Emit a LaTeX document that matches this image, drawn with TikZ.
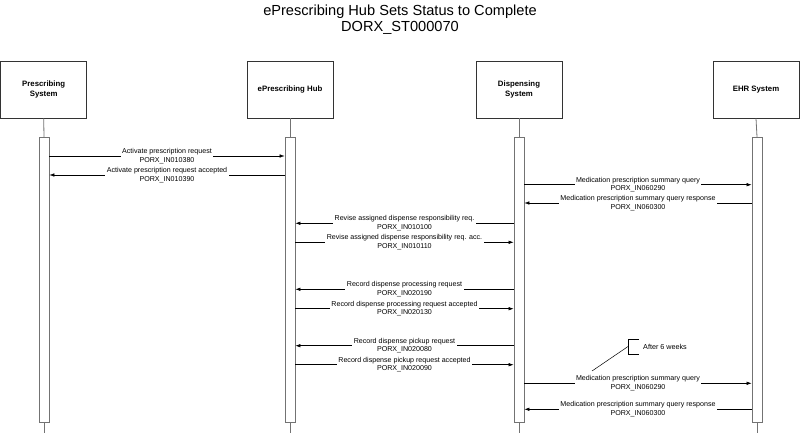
\documentclass[tikz,border=0pt]{standalone}
\usepackage{fontspec}
\setmainfont{Liberation Sans}
\usetikzlibrary{arrows.meta}

\tikzstyle{actor} = [draw=black!80, line width=0.8pt, minimum width=86, minimum height=57, inner sep=0pt, align=center, font=\bfseries\fontsize{7.8}{10}\selectfont]
\tikzstyle{bar} = [draw=black!55, line width=0.8pt, fill=white, minimum width=10, minimum height=285, inner sep=0pt, anchor=north]
\tikzstyle{life} = [draw=black!55, line width=0.8pt]
\tikzstyle{msg} = [-{Latex[length=5pt,width=3.5pt]}, line width=0.5pt]
\tikzstyle{lbl} = [fill=white, inner sep=1.5pt, align=center, font=\fontsize{7.1}{8.6}\selectfont]

\begin{document}
\begin{tikzpicture}[x=1pt, y=-1pt]
\useasboundingbox (0,0) rectangle (800,433);

\node [align=center, font=\fontsize{14.6}{16}\selectfont] (title) at (400,20) {ePrescribing Hub Sets Status to Complete\\DORX\_ST000070};

% participants
\node [actor] (P) at (43.7,89.5) {Prescribing\\System};
\node [actor] (H) at (290,89.5) {ePrescribing Hub};
\node [actor] (D) at (519,89.5) {Dispensing\\System};
\node [actor] (E) at (756,89.5) {EHR System};

\foreach \a/\x in {P/44,H/290,D/519,E/757}{
	\node [bar] (bar\a) at (\x,137) {};
	\coordinate (end\a) at (\x,433);
	\draw [life] (\a.south) -- (bar\a.north);
	\draw [life] (bar\a.south) -- (end\a);
}

% messages
\foreach \y/\s/\t/\txt/\code in {
	156/barP.east/barH.west/Activate prescription request/PORX\_IN010380,
	175/barH.west/barP.east/Activate prescription request accepted/PORX\_IN010390,
	184.7/barD.east/barE.west/Medication prescription summary query/PORX\_IN060290,
	203/barE.west/barD.east/Medication prescription summary query response/PORX\_IN060300,
	223.3/barD.west/barH.east/Revise assigned dispense responsibility req./PORX\_IN010100,
	242.3/barH.east/barD.west/Revise assigned dispense responsibility req. acc./PORX\_IN010110,
	289.3/barD.west/barH.east/Record dispense processing request/PORX\_IN020190,
	308.7/barH.east/barD.west/Record dispense processing request accepted/PORX\_IN020130,
	345.7/barD.west/barH.east/Record dispense pickup request/PORX\_IN020080,
	364.7/barH.east/barD.west/Record dispense pickup request accepted/PORX\_IN020090,
	383.3/barD.east/barE.west/Medication prescription summary query/PORX\_IN060290,
	409.3/barE.west/barD.east/Medication prescription summary query response/PORX\_IN060300}{
	\draw [msg] (\s |- 0,\y) -- node [lbl] {\txt\\\code} (\t |- 0,\y);
}

% note
\node [anchor=west, inner sep=0pt, font=\fontsize{7.2}{9}\selectfont] (note) at (643,346.5) {After 6 weeks};
\draw [line width=0.5pt] ([xshift=-4]note.west |- 0,339) -- (628,339) -- (628,354) -- ([xshift=-4]note.west |- 0,354);
\coordinate (pin) at (592,371);
\draw [line width=0.5pt] (628,346.5) -- (pin);
\end{tikzpicture}
\end{document}
